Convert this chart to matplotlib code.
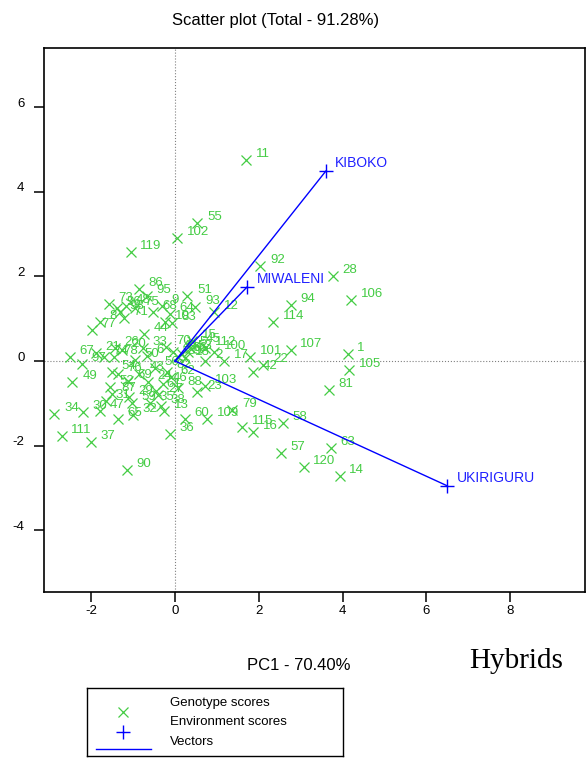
import matplotlib
matplotlib.use("Agg")
import matplotlib.pyplot as plt
import matplotlib.transforms as mtransforms

plt.rcParams['font.family'] = ['Liberation Sans', 'DejaVu Sans']
plt.rcParams['axes.unicode_minus'] = False

# genotype scores (PC1, PC2)
geno_labels = ['11', '55', '102', '119', '92', '28', '106', '94', '114', '107',
               '1', '105', '81', '101', '22', '42', '17', '2', '100', '58',
               '115', '16', '79', '109', '60', '36', '57', '120', '63', '14',
               '90', '37', '111', '34', '30', '47', '65', '32', '59', '35',
               '38', '13', '23', '103', '88', '49', '67', '97', '21', '74',
               '26', '20', '33', '6', '50', '78', '54', '76', '52', '87',
               '69', '24', '46', '56', '62', '86', '95', '73', '48', '75',
               '9', '68', '64', '83', '10', '98', '71', '77', '8', '44',
               '96', '51', '93', '12', '70', '40', '15', '45', '5', '53',
               '112', '66', '18', '39', '27', '82', '29', '43', '31', '61']
geno_x = [1.70, 0.53, 0.05, -1.06, 2.04, 3.77, 4.20, 2.76, 2.35, 2.76,
          4.12, 4.15, 3.67, 1.80, 2.11, 1.87, 1.18, 0.72, 0.94, 2.57,
          1.61, 1.87, 1.37, 0.77, 0.24, -0.12, 2.52, 3.07, 3.72, 3.93,
          -1.15, -2.01, -2.71, -2.88, -2.21, -1.80, -1.37, -1.01, -1.03, -0.60,
          -0.34, -0.26, 0.53, 0.72, 0.07, -2.45, -2.52, -2.23, -1.89, -1.70,
          -1.44, -1.27, -0.77, -0.67, -0.96, -1.46, -1.51, -1.37, -1.56, -1.51,
          -1.13, -0.65, -0.29, -0.48, -0.10, -0.86, -0.67, -1.58, -1.18, -0.96,
          -0.31, -0.53, -0.12, -0.07, -0.24, -1.32, -1.22, -1.99, -1.80, -0.74,
          -1.39, 0.29, 0.48, 0.94, -0.21, -0.05, 0.41, 0.50, 0.36, 0.31,
          0.72, 0.17, 0.24, 0.07, -0.40, -0.20, -1.10, -0.85, -1.65, -0.45]
geno_y = [4.75, 3.26, 2.91, 2.58, 2.25, 2.01, 1.44, 1.32, 0.92, 0.26,
          0.17, -0.21, -0.69, 0.09, -0.09, -0.26, 0.00, 0.00, 0.21, -1.47,
          -1.56, -1.68, -1.16, -1.37, -1.37, -1.73, -2.17, -2.51, -2.06, -2.72,
          -2.58, -1.91, -1.77, -1.25, -1.21, -1.18, -1.37, -1.28, -0.99, -0.99,
          -1.06, -1.18, -0.73, -0.59, -0.64, -0.50, 0.09, -0.07, 0.19, 0.09,
          0.31, 0.26, 0.31, 0.12, 0.02, 0.09, -0.26, -0.31, -0.61, -0.78,
          -0.47, -0.50, -0.54, -0.17, -0.38, 1.70, 1.54, 1.35, 1.30, 1.25,
          1.30, 1.16, 1.11, 0.90, 0.92, 1.16, 1.02, 0.73, 0.92, 0.64,
          1.25, 1.54, 1.28, 1.16, 0.33, 0.21, 0.47, 0.38, 0.31, 0.21,
          0.31, 0.17, 0.07, 0.09, -0.80, -0.25, -0.85, -0.30, -0.95, -0.70]

# environment scores
env_labels = ['KIBOKO', 'MIWALENI', 'UKIRIGURU']
env_x = [3.60, 1.72, 6.50]
env_y = [4.49, 1.75, -2.95]

x_ticks = [-2, 0, 2, 4, 6, 8]
y_ticks = [-4, -2, 0, 2, 4, 6]

green = '#44cc44'
blue = '#0000ff'

fig = plt.figure(figsize=(5.87, 7.59), dpi=100)
ax = fig.add_axes([44 / 587, 1 - 592 / 759, 541 / 587, 544 / 759])

ax.axhline(0, color='#808080', ls=':', lw=0.8, zorder=1)
ax.axvline(0, color='#808080', ls=':', lw=0.8, zorder=1)

ax.plot(geno_x, geno_y, 'x', color=green, markersize=7.5, mew=0.9, zorder=2)
for lab, x, y in zip(geno_labels, geno_x, geno_y):
    ax.annotate(lab, (x, y), xytext=(7.0, 4.5), textcoords='offset points',
                ha='left', va='center', fontsize=9.5, color=green, zorder=3)

for lab, x, y in zip(env_labels, env_x, env_y):
    ax.plot([0, x], [0, y], color=blue, lw=1.0, zorder=4)
    ax.plot(x, y, '+', color=blue, markersize=10, mew=1.0, zorder=5)
    ax.annotate(lab, (x, y), xytext=(6.8, 5.8), textcoords='offset points',
                ha='left', va='center', fontsize=10, color='#2020ff', zorder=5)

ax.set_xlim(-3.13, 9.79)
ax.set_ylim(-5.46, 7.40)
ax.set_xticks(x_ticks)
ax.set_yticks(y_ticks)
ax.tick_params(direction='out', length=7, width=1.1, labelsize=9.5,
               top=False, right=False)
ax.tick_params(axis='y', pad=7)
ax.tick_params(axis='x', pad=2)
for sp in ax.spines.values():
    sp.set_linewidth(1.2)
shift = mtransforms.ScaledTranslation(0, 5 / 100, fig.dpi_scale_trans)
for lbl in ax.get_yticklabels():
    lbl.set_transform(lbl.get_transform() + shift)

fig.text(276 / 587, 1 - 20 / 759, 'Scatter plot (Total - 91.28%)',
         ha='center', va='center', fontsize=12)
fig.text(299 / 587, 1 - 665 / 759, 'PC1 - 70.40%',
         ha='center', va='center', fontsize=12)
fig.text(516 / 587, 1 - 661 / 759, 'Hybrids', ha='center', va='center',
         fontsize=21, family=['Liberation Serif', 'DejaVu Serif'])

# legend box
lax = fig.add_axes([87 / 587, 3 / 759, 256 / 587, 68 / 759])
lax.set_xlim(0, 1)
lax.set_ylim(0, 1)
lax.set_xticks([])
lax.set_yticks([])
for sp in lax.spines.values():
    sp.set_linewidth(1.0)
lax.plot(0.14, 0.647, 'x', color=green, markersize=7.5, mew=0.9)
lax.plot(0.14, 0.353, '+', color=blue, markersize=10, mew=1.0)
lax.plot([0.035, 0.25], [0.103, 0.103], color=blue, lw=1.0)
lax.text(0.324, 0.78, 'Genotype scores', va='center', fontsize=9.5)
lax.text(0.324, 0.50, 'Environment scores', va='center', fontsize=9.5)
lax.text(0.324, 0.206, 'Vectors', va='center', fontsize=9.5)

fig.savefig('out.png', dpi=100)
